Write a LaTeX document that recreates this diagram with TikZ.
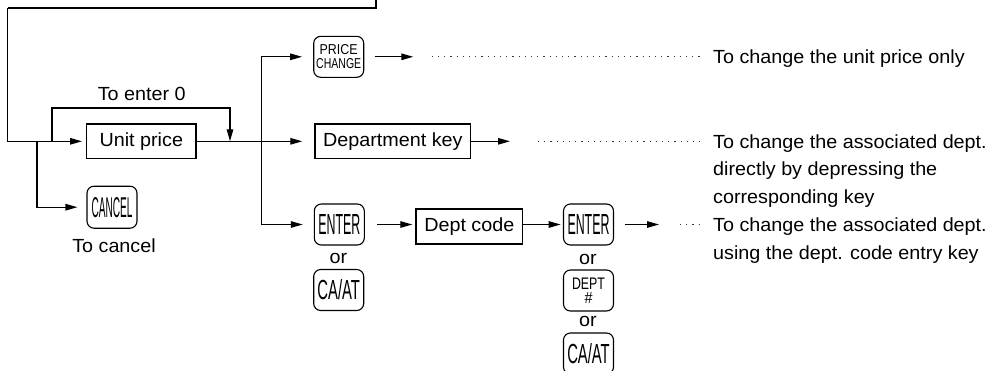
\documentclass[tikz,border=0pt]{standalone}
\usepackage{fontspec}
\setmainfont[FakeStretch=1.04]{Liberation Sans}
\newfontfamily\keyfont{Liberation Sans}
\usetikzlibrary{arrows.meta}
\tikzset{
  conn/.style={line width=1.3pt, line cap=butt},
  arr/.style={conn, -{Triangle[length=12pt,width=6.5pt]}},
  dotline/.style={line width=1pt, dash pattern=on 1.2pt off 5pt, black!80},
  box/.style={draw, line width=1.3pt, inner sep=0pt, font=\fontsize{19}{27.5}\selectfont},
  keybox/.style={draw, line width=1.1pt, rounded corners=7pt, minimum width=50pt, minimum height=41pt, inner sep=0pt, align=center, font=\keyfont\fontsize{10}{14.5}\selectfont},
  txt/.style={inner sep=0pt, font=\fontsize{19}{27.5}\selectfont},
  rtxt/.style={txt, anchor=base west}
}
\newcommand{\keylab}[3]{\resizebox{#1pt}{#2pt}{#3}}
\begin{document}
\begin{tikzpicture}[x=1pt,y=-1pt]
\clip (0,0) rectangle (1001,370);
\useasboundingbox (0,0) rectangle (1001,370);
% boxes
\node[box, minimum width=109.3pt, minimum height=34.7pt] (up) at (141.3,141.3) {Unit price};
\node[box, minimum width=155.7pt, minimum height=34.5pt] (dk) at (392.8,141.3) {Department key};
\node[box, minimum width=106.7pt, minimum height=35pt] (dc) at (469.3,226.5) {Dept code};
% keys
\node[keybox] (pc) at (338.7,56.8) {\keylab{38}{10}{PRICE}\\\keylab{45}{10}{CHANGE}};
\node[keybox, minimum height=42pt] (cancel) at (112,207.2) {\keylab{41}{20}{CANCEL}};
\node[keybox] (ent1) at (339.3,224.5) {\keylab{42}{20}{ENTER}};
\node[keybox] (ca1) at (338.7,290) {\keylab{42.5}{20}{CA/AT}};
\node[keybox] (ent2) at (588.5,224.5) {\keylab{42}{20}{ENTER}};
\node[keybox] (dept) at (588.5,290.5) {\keylab{33}{11.5}{DEPT}\\\keylab{8}{11}{\#}};
\node[keybox] (ca2) at (588.5,353.5) {\keylab{42.5}{20}{CA/AT}};
% small texts
\node[txt] (or1) at (338.5,258) {or};
\node[txt] (or2) at (588,259.5) {or};
\node[txt] (or3) at (588,321.7) {or};
\node[txt] (tc) at (114,246) {To cancel};
\node[txt] (te) at (141.7,93.5) {To enter 0};
% right texts
\node[rtxt] (r1) at (713,63.5) {To change the unit price only};
\node[rtxt] (r2a) at (713,148) {To change the associated dept.};
\node[rtxt] (r2b) at (713,175.5) {directly by depressing the};
\node[rtxt] (r2c) at (713,203) {corresponding key};
\node[rtxt] (r3a) at (713,231.5) {To change the associated dept.};
\node[rtxt] (r3b) at (713,259) {using the dept. code entry key};
% coordinates
\coordinate (topend) at (376,-5);
\coordinate (lft) at (7.5,8);
\coordinate (bc) at (37,141.3);
\coordinate (z1) at (52,141.3);
\coordinate (z2) at (230,141.3);
\coordinate (vx) at (261.7,141.3);
\coordinate (a1) at (413.3,56.8);
\coordinate (a2) at (510,141.3);
\coordinate (a3) at (659,224.5);
\coordinate (d1s) at (431.7,56.8);
\coordinate (d1e) at (703,56.8);
\coordinate (d2s) at (538,141.3);
\coordinate (d2e) at (703,141.3);
\coordinate (d3s) at (680,224.5);
\coordinate (d3e) at (703,224.5);
% connectors
\draw[conn] (topend) |- (lft);
\draw[arr, shorten >=4pt] (lft) |- (up.west);
\draw[arr, shorten >=9pt] (bc) |- (cancel.west);
\draw[arr] (z1) -- ++(0,-33.3) -| (z2);
\draw[arr, shorten >=12pt] (up.east) -- (dk.west);
\draw[arr, shorten >=11pt] (vx) |- (pc.west);
\draw[arr, shorten >=11pt] (vx) |- (ent1.west);
\draw[arr, shorten <=10.3pt] (pc.east) -- (a1);
\draw[arr] (dk.east) -- (a2);
\draw[arr, shorten <=12.4pt, shorten >=3pt] (ent1.east) -- (ent1.east -| dc.west);
\draw[arr, shorten >=2.3pt] (dc.east |- ent2.west) -- (ent2.west);
\draw[arr, shorten <=10.5pt] (ent2.east) -- (a3);
\draw[dotline] (d1s) -- (d1e);
\draw[dotline] (d2s) -- (d2e);
\draw[dotline] (d3s) -- (d3e);
\end{tikzpicture}
\end{document}
